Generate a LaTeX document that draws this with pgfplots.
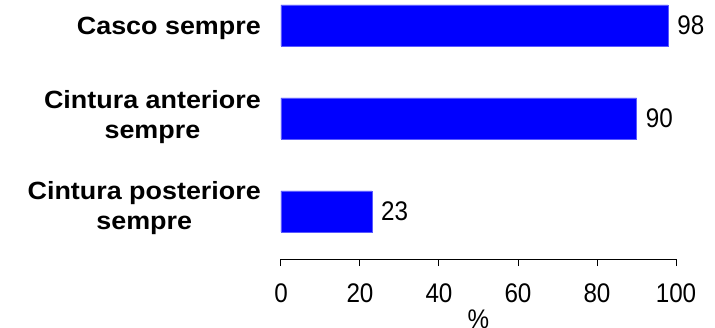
\documentclass[border=0pt]{standalone}
\usepackage{fontspec}
\setmainfont{Liberation Sans}
\usepackage{pgfplots}
\pgfplotsset{compat=1.18}
\definecolor{barblue}{RGB}{0,0,255}
\definecolor{edgeblue}{RGB}{90,90,255}
\newcommand{\catlab}[2]{\raisebox{#1}[\height][\depth]{\scalebox{1.08}[1]{\fontsize{25}{30}\selectfont\bfseries\begin{tabular}{@{}c@{}}#2\end{tabular}}}}
\begin{document}
\begin{tikzpicture}
\path[use as bounding box] (-281bp,-69bp) rectangle (434bp,259bp);
\begin{axis}[
 at={(0,0)}, anchor=south west,
 scale only axis, width=395bp, height=259bp,
 xmin=0, xmax=100, ymin=-0.511, ymax=2.274,
 axis x line=bottom, axis y line=left,
 axis line style={-, black, line width=1pt},
 y axis line style={draw=none},
 xtick={0,20,...,100},
 xtick align=outside, major tick length=7bp,
 xtick style={black, line width=1pt},
 ytick style={draw=none},
 ytick={0,1,2},
 yticklabels={{\catlab{3bp}{Cintura posteriore\\sempre}},{\catlab{1bp}{Cintura anteriore\\sempre}},{\catlab{-3.5bp}{Casco sempre}}},
 yticklabel style={anchor=east, inner sep=0pt, xshift=-13bp},
 /pgf/number format/assume math mode=true,
 xticklabel={\scalebox{0.9}[1]{\fontsize{27}{30}\selectfont\pgfmathprintnumber{\tick}}},
 xticklabel style={inner sep=0pt, anchor=north, yshift=-18bp},
 xlabel={\fontsize{27}{30}\selectfont\scalebox{0.9}[1]{\%}},
 xlabel style={at={(axis description cs:0.5,0)}, anchor=north, yshift=-51bp, inner sep=0pt},
 xbar, bar width=41bp,
 point meta=x,
 nodes near coords={\scalebox{0.9}[1]{\fontsize{27}{30}\selectfont\pgfmathprintnumber{\pgfplotspointmeta}}},
 nodes near coords style={black, anchor=west, inner sep=0pt, xshift=9bp},
]
\addplot[fill=barblue, draw=edgeblue, line width=0.6pt] coordinates {(23,0) (90,1) (98,2)};
\end{axis}
\end{tikzpicture}
\end{document}
